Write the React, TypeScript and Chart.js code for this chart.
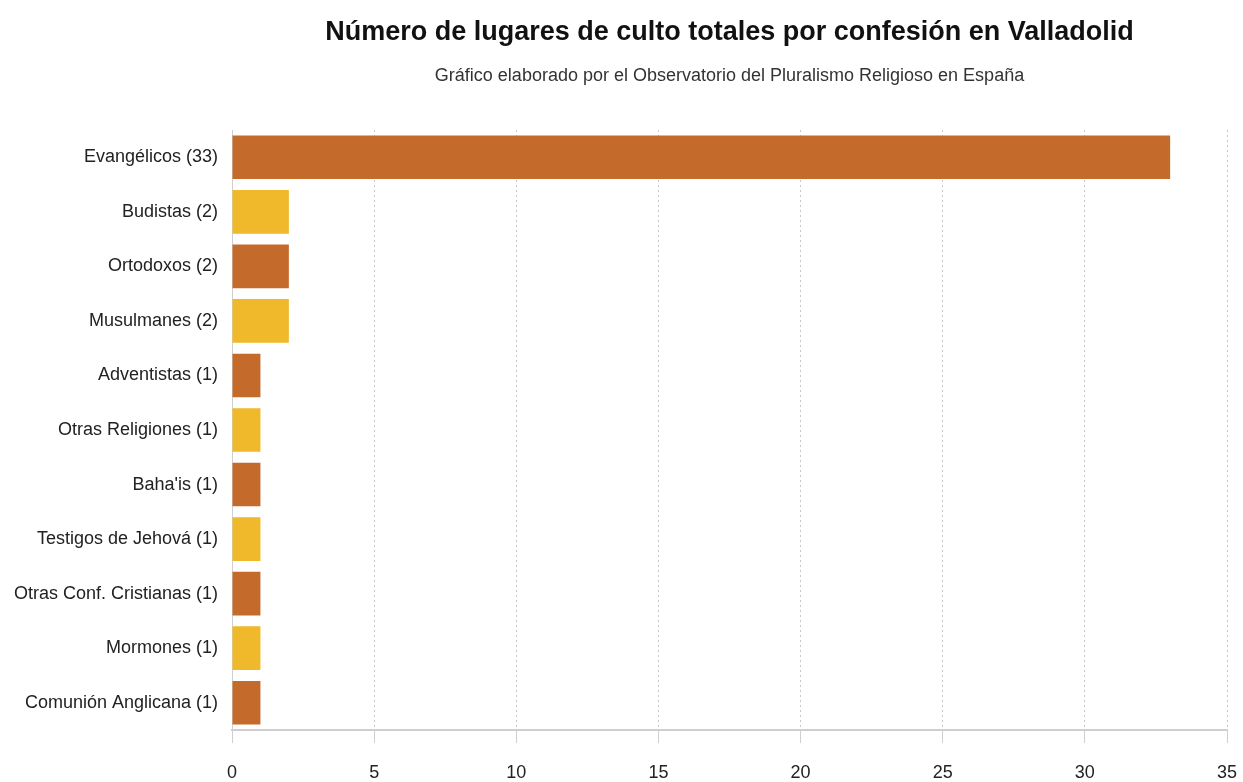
import React, { useEffect, useRef } from "react";
import { Chart, registerables } from "chart.js";

Chart.register(...registerables);

const TITLE = "Número de lugares de culto totales por confesión en Valladolid";
const SUBTITLE = "Gráfico elaborado por el Observatorio del Pluralismo Religioso en España";

const categories = [
  "Evangélicos (33)",
  "Budistas (2)",
  "Ortodoxos (2)",
  "Musulmanes (2)",
  "Adventistas (1)",
  "Otras Religiones (1)",
  "Baha'is (1)",
  "Testigos de Jehová (1)",
  "Otras Conf. Cristianas (1)",
  "Mormones (1)",
  "Comunión Anglicana (1)",
];
const values = [33, 2, 2, 2, 1, 1, 1, 1, 1, 1, 1];
const palette = ["#C46A2A", "#F0B92B"];
const xTicks = [0, 5, 10, 15, 20, 25, 30, 35];

export default function App() {
  const ref = useRef<HTMLCanvasElement | null>(null);
  useEffect(() => {
    if (!ref.current) return;
    const chart = new Chart(ref.current, {
      type: "bar",
      data: {
        labels: categories,
        datasets: [
          {
            data: values,
            backgroundColor: values.map((_, i) => palette[i % 2]),
            barPercentage: 0.8,
            categoryPercentage: 1,
          },
        ],
      },
      options: {
        indexAxis: "y",
        animation: false,
        responsive: true,
        maintainAspectRatio: false,
        layout: { padding: { top: 0, right: 0, bottom: 0, left: 0 } },
        plugins: {
          legend: { display: false },
          tooltip: { enabled: false },
          title: {
            display: true,
            text: TITLE,
            fullSize: false,
            color: "#111",
            font: { family: "'Liberation Sans', Arial, sans-serif", size: 27, weight: "bold" },
            padding: { top: 16, bottom: 17 },
          },
          subtitle: {
            display: true,
            text: SUBTITLE,
            fullSize: false,
            color: "#333",
            font: { family: "'Liberation Sans', Arial, sans-serif", size: 18 },
            padding: { top: 0, bottom: 43 },
          },
        },
        scales: {
          x: {
            type: "linear",
            min: 0,
            max: 35,
            afterBuildTicks: (scale: any) => {
              scale.ticks = xTicks.map((v) => ({ value: v }));
            },
            afterFit: (scale: any) => {
              scale.height = 52;
              scale.paddingRight = 16;
              scale.paddingLeft = 0;
            },
            grid: {
              color: "#c8c8c8",
              tickColor: "#cfcfcf",
              tickLength: 13,
              lineWidth: 1,
            },
            border: { display: true, color: "#cfcfcf", width: 2, dash: [2, 3] },
            ticks: {
              color: "#222",
              padding: 21,
              font: { family: "'Liberation Sans', Arial, sans-serif", size: 18, lineHeight: 1 },
            },
          },
          y: {
            afterFit: (scale: any) => {
              scale.width = 232;
            },
            grid: { display: false, drawTicks: false },
            border: { display: true, color: "#cfcfcf", width: 1 },
            ticks: {
              color: "#222",
              padding: 14,
              font: { family: "'Liberation Sans', Arial, sans-serif", size: 18 },
            },
          },
        },
      },
    });
    return () => chart.destroy();
  }, []);
  return (
    <div style={{ position: "absolute", left: 0, top: 0, width: 1243, height: 782 }}>
      <canvas ref={ref} />
    </div>
  );
}
